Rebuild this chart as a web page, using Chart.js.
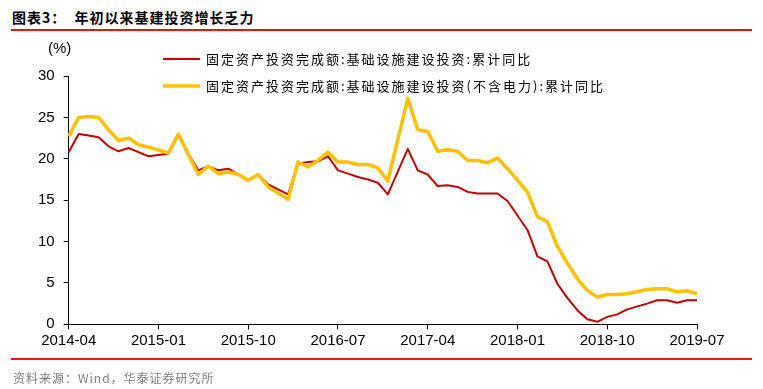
<!DOCTYPE html>
<html>
<head>
<meta charset="utf-8">
<script src="https://cdn.jsdelivr.net/npm/chart.js@4.4.0/dist/chart.umd.min.js"></script>
<style>
  html, body { margin: 0; padding: 0; background: #fff; }
  #wrap { position: relative; width: 763px; height: 389px; overflow: hidden; }
  #chart { position: absolute; left: 0; top: 0; }
  .title { position: absolute; left: 12px; top: 7px; line-height: 20px; font: bold 14px "Noto Sans CJK SC"; letter-spacing: 1px; color: #000; white-space: nowrap; }
  .rule { position: absolute; left: 11px; width: 741px; height: 2px; background: #e8170d; }
  .source { position: absolute; left: 13px; top: 369px; line-height: 16px; font: 12px "Noto Sans CJK SC"; letter-spacing: 1px; color: #7f7f7f; white-space: nowrap; }
</style>
</head>
<body>
<div id="wrap">
  <div class="title">图表3：&nbsp;&nbsp;年初以来基建投资增长乏力</div>
  <div class="rule" style="top:29px"></div>
  <canvas id="chart" width="763" height="389"></canvas>
  <div class="rule" style="top:358px"></div>
  <div class="source">资料来源：Wind，华泰证券研究所</div>
</div>
<script>
'use strict';

// 月份 2014-04 ～ 2019-07（1月无数据）
var months = [];
for (var y = 2014; y <= 2019; y++) {
  for (var m = 1; m <= 12; m++) {
    if (y === 2014 && m < 4) continue;
    if (y === 2019 && m > 7) break;
    months.push(y + '-' + (m < 10 ? '0' + m : m));
  }
}

// 基础设施建设投资:累计同比
var infra = [
  20.8, 23.0, 22.8, 22.6, 21.5, 20.9, 21.3, 20.8, 20.3,
  null, 20.6, 22.9, 20.6, 18.6, 19.1, 18.6, 18.8, 18.1, 17.4, 18.1, 16.9,
  null, 15.7, 19.4, 19.6, 19.7, 20.3, 18.6, 18.2, 17.8, 17.5, 17.1, 15.7,
  null, 21.2, 18.6, 18.1, 16.7, 16.8, 16.6, 16.0, 15.8, 15.8, 15.8, 14.9,
  null, 11.4, 8.2, 7.6, 4.9, 3.2, 1.7, 0.6, 0.3, 0.9, 1.2, 1.8,
  null, 2.5, 2.9, 2.9, 2.6, 2.9, 2.9
];

// 基础设施建设投资(不含电力):累计同比
var infraExPower = [
  22.7, 25.0, 25.1, 25.0, 23.5, 22.2, 22.5, 21.7, 21.4,
  null, 20.7, 23.0, 20.5, 18.1, 19.1, 18.2, 18.4, 18.1, 17.4, 18.1, 16.6,
  null, 15.1, 19.6, 19.0, 19.8, 20.8, 19.6, 19.6, 19.3, 19.3, 18.9, 17.3,
  null, 27.3, 23.5, 23.3, 20.9, 21.1, 20.9, 19.8, 19.8, 19.5, 20.1, 18.8,
  null, 16.0, 13.0, 12.4, 9.4, 7.4, 5.5, 4.1, 3.3, 3.6, 3.6, 3.7,
  null, 4.2, 4.3, 4.3, 3.9, 4.05, 3.7
];

var yTicks = [0, 5, 10, 15, 20, 25, 30];

var seriesNames = [
  '固定资产投资完成额:基础设施建设投资:累计同比',
  '固定资产投资完成额:基础设施建设投资(不含电力):累计同比'
];

//凡例と(%)の描画
var legendPlugin = {
  id: 'legendPlugin',
  afterDraw: function(chart) {
    var ctx = chart.ctx;
    ctx.save();
    ctx.font = '15px "Liberation Sans", Arial';
    ctx.fillStyle = '#000';
    ctx.textBaseline = 'middle';
    ctx.fillText('(%)', 48, 49);

    ctx.font = '13px "Noto Sans CJK SC"';
    if ('letterSpacing' in ctx) ctx.letterSpacing = '2px';
    var rows = [59, 86];
    chart.data.datasets.forEach(function(ds, i) {
      ctx.strokeStyle = ds.borderColor;
      ctx.lineWidth = ds.borderWidth;
      ctx.beginPath();
      ctx.moveTo(163, rows[i]);
      ctx.lineTo(200, rows[i]);
      ctx.stroke();
      ctx.fillStyle = '#000';
      ctx.fillText(ds.label, 206, rows[i]);
    });
    ctx.restore();
  }
};

var ctx = document.getElementById('chart');
var myChart = new Chart(ctx, {
  type: 'line',
  data: {
    labels: months,
    datasets: [{
      label: seriesNames[0],
      data: infra,
      borderColor: '#c00000',
      borderWidth: 2,
      order: 1
    }, {
      label: seriesNames[1],
      data: infraExPower,
      borderColor: '#ffc000',
      borderWidth: 3.5,
      order: 0
    }]
  },
  options: {
    responsive: false,
    animation: false,
    devicePixelRatio: 1,
    spanGaps: true,
    elements: {
      point: { radius: 0 },
      line: { tension: 0, borderJoinStyle: 'round' }
    },
    layout: {
      padding: { left: 0, top: 76, right: 66, bottom: 34.7 }
    },
    plugins: {
      legend: { display: false },
      tooltip: { enabled: false }
    },
    scales: {
      x: {
        type: 'category',
        offset: false,
        afterFit: function(scale) { scale.height = 30; },
        border: { display: true, color: '#000', width: 1 },
        grid: {
          drawOnChartArea: false,
          drawTicks: true,
          tickLength: 5,
          color: '#000',
          tickColor: '#000'
        },
        ticks: {
          autoSkip: false,
          maxRotation: 0,
          padding: 3,
          color: '#000',
          font: { family: '"Liberation Sans", Arial', size: 15 },
          callback: function(val, i) {
            return i % 9 === 0 ? this.getLabelForValue(val) : null;
          }
        }
      },
      y: {
        min: 0,
        max: 30,
        afterFit: function(scale) { scale.width = 68.7; },
        afterBuildTicks: function(scale) {
          scale.ticks = yTicks.map(function(v) { return { value: v }; });
        },
        border: { display: true, color: '#000', width: 1 },
        grid: {
          drawOnChartArea: false,
          drawTicks: true,
          tickLength: 5,
          color: '#000',
          tickColor: '#000'
        },
        ticks: {
          padding: 9,
          color: '#000',
          font: { family: '"Liberation Sans", Arial', size: 15 }
        }
      }
    }
  },
  plugins: [legendPlugin]
});
</script>
</body>
</html>
